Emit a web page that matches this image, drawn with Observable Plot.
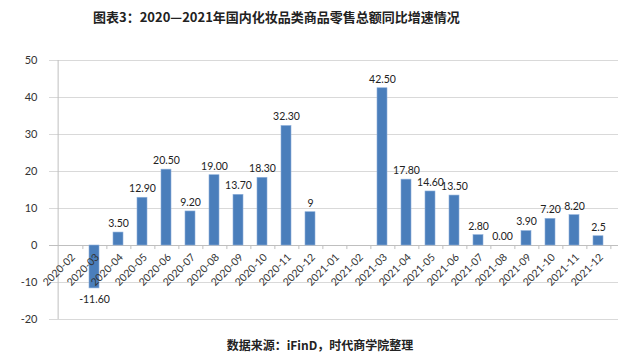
<!DOCTYPE html>
<html><head><meta charset="utf-8">
<script src="https://cdn.jsdelivr.net/npm/d3@7"></script>
<script src="https://cdn.jsdelivr.net/npm/@observablehq/plot@0.6"></script>
<style>
body{margin:0;width:640px;height:360px;position:relative;background:#fff;font-family:"Noto Sans CJK SC",sans-serif;overflow:hidden}
#title{position:absolute;top:7px;left:93px;font-size:13px;font-weight:bold;color:#222;white-space:nowrap}
#chart{position:absolute;top:35px;left:0}
#caption{position:absolute;top:336px;left:0;width:640px;text-align:center;font-size:12px;font-weight:bold;color:#222}
</style></head><body>
<div id="title">图表3：2020—2021年国内化妆品类商品零售总额同比增速情况</div>
<div id="chart"></div>
<div id="caption">数据来源：iFinD，时代商学院整理</div>
<script>
const months = ["2020-02","2020-03","2020-04","2020-05","2020-06","2020-07","2020-08","2020-09","2020-10","2020-11","2020-12","2021-01","2021-02","2021-03","2021-04","2021-05","2021-06","2021-07","2021-08","2021-09","2021-10","2021-11","2021-12"];
const values = [null,-11.6,3.5,12.9,20.5,9.2,19.0,13.7,18.3,32.3,9,null,null,42.5,17.8,14.6,13.5,2.8,0.0,3.9,7.2,8.2,2.5];
const valueLabels = ["","-11.60","3.50","12.90","20.50","9.20","19.00","13.70","18.30","32.30","9","","","42.50","17.80","14.60","13.50","2.80","0.00","3.90","7.20","8.20","2.5"];
const yTicks = [-20,-10,0,10,20,30,40,50];

const data = months.map((m,i)=>({month:m, value:values[i], label:valueLabels[i]}));
const shown = data.filter(d=>d.value!==null);

const W = 640, ML = 49, MR = 22;
const step = (W - ML - MR) / months.length;
const numFont = "Lato, 'Liberation Sans', sans-serif";

const plot = Plot.plot({
  width: W, height: 296,
  marginLeft: ML, marginRight: MR, marginTop: 25, marginBottom: 12,
  style: {color:"#333", fontFamily: numFont, background:"transparent"},
  x: {domain: months, type:"band", paddingInner:0.6, paddingOuter:0.3, axis:null},
  y: {domain:[-20,50], label:null},
  marks: [
    Plot.gridY(yTicks, {stroke:"#d9d9d9", strokeOpacity:1}),
    Plot.ruleX([months[0]], {y1:-20, y2:50, dx:-step/2, stroke:"#bfbfbf"}),
    Plot.ruleY([0], {stroke:"#bfbfbf"}),
    Plot.ruleX(months, {x:d=>d, y1:0, y2:-1.1, dx:step/2, stroke:"#bfbfbf"}),
    Plot.barY(shown, {x:"month", y:"value", fill:"#4a7ebb", stroke:"#8eb0db", strokeWidth:0.6}),
    Plot.axisY(yTicks, {tickSize:0, tickPadding:12, fontSize:11, fill:"#333", label:null, tickFormat:d=>String(d)}),
    Plot.text(shown.filter(d=>d.value>=0), {x:"month", y:"value", text:"label", dy:-9, fontSize:10.5, fill:"#222"}),
    Plot.text(shown.filter(d=>d.value<0), {x:"month", y:"value", text:"label", dy:11, fontSize:10.5, fill:"#222"}),
    Plot.text(months, {x:d=>d, y:()=>0, text:d=>d, rotate:-45, textAnchor:"end", dx:3, dy:10, fontSize:10.5, fill:"#333"})
  ]
});
document.getElementById("chart").appendChild(plot);
</script>
</body></html>
